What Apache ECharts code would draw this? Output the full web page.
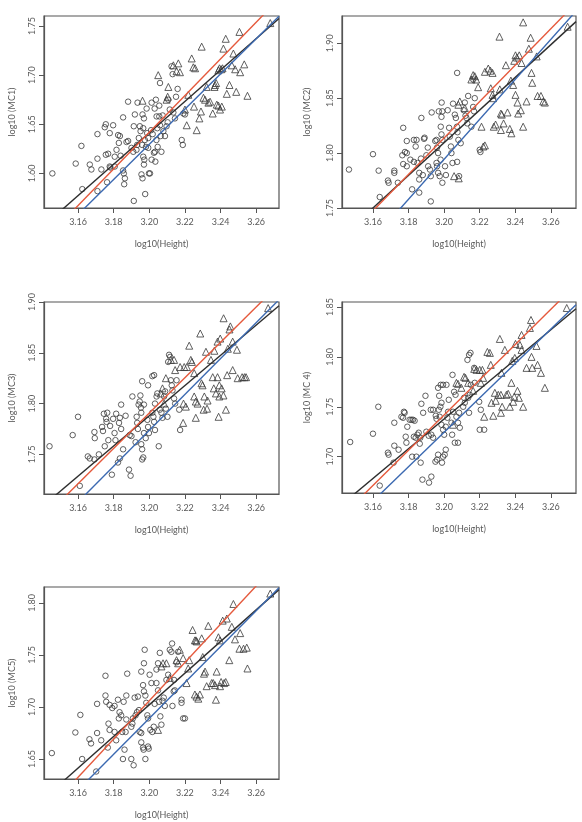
<!DOCTYPE html>
<html>
<head>
<meta charset="utf-8">
<script src="https://cdn.jsdelivr.net/npm/echarts@6/dist/echarts.min.js"></script>
<style>
  html, body { margin: 0; padding: 0; background: #fff; }
  #main { width: 582px; height: 822px; }
</style>
</head>
<body>
<div id="main"></div>
<script>
// x ticks shared by every panel
const xTicks = [3.16, 3.18, 3.20, 3.22, 3.24, 3.26];

// fitted lines: [black, red, blue]
const fitColors = ['#2e2e2e', '#e5593c', '#3b69b1'];

// ---- MC1 ----
const mc1YTicks = [1.60, 1.65, 1.70, 1.75];
const mc1Slopes = [1.598, 1.866, 1.789];
const mc1Intercepts = [-3.4723, -4.3293, -4.0952];
const mc1Circles = [
  [3.1456,1.600],[3.1587,1.610],[3.1619,1.628],[3.1624,1.584],[3.1666,1.609],[3.1675,1.604],
  [3.1709,1.640],[3.1709,1.615],[3.1709,1.582],[3.1731,1.604],[3.175,1.647],[3.1756,1.650],
  [3.1756,1.619],[3.1769,1.620],[3.1763,1.591],[3.1778,1.641],[3.1778,1.607],[3.1782,1.606],
  [3.1797,1.649],[3.1806,1.617],[3.1806,1.607],[3.1816,1.624],[3.1825,1.639],[3.1829,1.631],
  [3.1835,1.638],[3.1839,1.618],[3.1853,1.657],[3.1857,1.600],[3.1863,1.595],[3.1853,1.603],
  [3.1859,1.589],[3.1872,1.632],[3.1881,1.633],[3.1881,1.673],[3.19,1.626],[3.191,1.622],
  [3.1913,1.648],[3.1919,1.660],[3.1913,1.572],[3.1934,1.672],[3.1932,1.629],[3.1941,1.636],
  [3.1947,1.648],[3.1951,1.643],[3.1956,1.599],[3.1962,1.595],[3.1962,1.660],[3.197,1.656],
  [3.1966,1.646],[3.1966,1.617],[3.1972,1.614],[3.197,1.609],[3.1977,1.579],[3.1975,1.634],
  [3.1981,1.627],[3.1985,1.666],[3.1988,1.641],[3.1994,1.636],[3.1994,1.626],[3.1998,1.600],
  [3.2004,1.600],[3.2013,1.614],[3.2019,1.640],[3.2013,1.672],[3.2026,1.621],[3.2032,1.622],
  [3.2034,1.612],[3.2037,1.675],[3.2041,1.658],[3.2045,1.646],[3.2047,1.627],[3.2056,1.658],
  [3.206,1.649],[3.206,1.692],[3.2056,1.669],[3.2064,1.638],[3.2068,1.622],[3.2075,1.659],
  [3.2079,1.643],[3.2088,1.638],[3.2097,1.648],[3.2103,1.652],[3.2107,1.675],[3.2125,1.709],
  [3.2131,1.701],[3.2135,1.662],[3.2144,1.656],[3.215,1.678],[3.2159,1.686],[3.2182,1.634],
  [3.2188,1.629],[3.2191,1.661],[3.22,1.660],[3.1928,1.624],[3.1960,1.629],[3.2010,1.644],
  [3.2040,1.634],[3.2115,1.665],[3.2030,1.666]
];
const mc1Triangles = [
  [3.1962,1.674],[3.205,1.700],[3.2097,1.675],[3.2103,1.678],[3.2107,1.688],[3.2135,1.710],
  [3.2153,1.704],[3.2163,1.712],[3.2172,1.703],[3.22,1.665],[3.221,1.649],[3.2219,1.680],
  [3.2238,1.717],[3.2247,1.708],[3.2257,1.707],[3.2251,1.668],[3.2266,1.644],[3.2281,1.656],
  [3.229,1.663],[3.2294,1.729],[3.2304,1.677],[3.2313,1.675],[3.2322,1.688],[3.2332,1.672],
  [3.2341,1.673],[3.2356,1.661],[3.2366,1.688],[3.2369,1.690],[3.2375,1.692],[3.2388,1.705],
  [3.2379,1.670],[3.2388,1.669],[3.2394,1.707],[3.2403,1.706],[3.2411,1.707],[3.2397,1.665],
  [3.2407,1.668],[3.2416,1.727],[3.2429,1.737],[3.2435,1.681],[3.245,1.690],[3.2463,1.710],
  [3.2472,1.722],[3.2482,1.706],[3.2488,1.683],[3.2506,1.744],[3.251,1.703],[3.2533,1.711],
  [3.2551,1.679],[3.2679,1.753]
];

// ---- MC2 ----
const mc2YTicks = [1.75, 1.80, 1.85, 1.90];
const mc2Slopes = [1.487, 1.658, 1.82];
const mc2Intercepts = [-2.9489, -3.4918, -4.0296];
const mc2Circles = [
  [3.1465,1.785],[3.160,1.799],[3.1632,1.784],[3.1638,1.760],[3.1684,1.775],[3.1688,1.773],
  [3.172,1.784],[3.172,1.782],[3.174,1.773],[3.177,1.823],[3.1765,1.798],[3.177,1.790],
  [3.178,1.801],[3.179,1.800],[3.179,1.788],[3.179,1.811],[3.181,1.794],[3.182,1.767],
  [3.183,1.812],[3.184,1.806],[3.1845,1.812],[3.183,1.792],[3.185,1.791],[3.186,1.782],
  [3.186,1.776],[3.186,1.764],[3.1872,1.832],[3.1887,1.813],[3.189,1.814],[3.187,1.795],
  [3.188,1.780],[3.19,1.798],[3.1908,1.805],[3.191,1.788],[3.192,1.785],[3.1925,1.779],
  [3.1925,1.756],[3.193,1.837],[3.195,1.811],[3.1957,1.812],[3.196,1.805],[3.1966,1.800],
  [3.1957,1.791],[3.196,1.788],[3.1966,1.782],[3.1975,1.779],[3.197,1.838],[3.1985,1.833],
  [3.199,1.838],[3.1981,1.824],[3.1985,1.817],[3.199,1.812],[3.199,1.773],[3.198,1.794],
  [3.2005,1.788],[3.201,1.780],[3.1986,1.846],[3.202,1.839],[3.2028,1.823],[3.2032,1.815],
  [3.2038,1.806],[3.2041,1.800],[3.2047,1.791],[3.205,1.845],[3.206,1.835],[3.2066,1.832],
  [3.2072,1.824],[3.2075,1.819],[3.208,1.812],[3.2073,1.873],[3.2073,1.792],[3.2084,1.779],
  [3.2093,1.809],[3.211,1.839],[3.2116,1.846],[3.212,1.834],[3.2125,1.832],[3.213,1.827],
  [3.2135,1.852],[3.2163,1.867],[3.2163,1.842],[3.2172,1.850],[3.2168,1.838],[3.2153,1.824],
  [3.22,1.803],[3.2204,1.801]
];
const mc2Triangles = [
  [3.2056,1.779],[3.2082,1.777],[3.208,1.844],[3.2088,1.847],[3.2116,1.841],[3.2153,1.867],
  [3.2163,1.871],[3.2172,1.870],[3.218,1.867],[3.2191,1.860],[3.221,1.824],[3.222,1.806],
  [3.2229,1.807],[3.2229,1.874],[3.2248,1.877],[3.226,1.875],[3.2272,1.873],[3.2262,1.859],
  [3.2272,1.853],[3.2275,1.850],[3.2279,1.824],[3.2289,1.826],[3.2311,1.906],[3.2313,1.858],
  [3.2319,1.836],[3.2324,1.835],[3.2334,1.827],[3.2319,1.821],[3.2347,1.880],[3.2356,1.837],
  [3.2369,1.822],[3.2378,1.818],[3.2375,1.866],[3.2388,1.862],[3.2394,1.884],[3.2401,1.889],
  [3.2409,1.887],[3.2422,1.889],[3.2401,1.853],[3.2412,1.846],[3.2416,1.836],[3.2431,1.839],
  [3.2444,1.824],[3.2444,1.919],[3.2435,1.882],[3.2463,1.847],[3.2476,1.895],[3.2486,1.905],
  [3.2491,1.873],[3.2495,1.864],[3.252,1.888],[3.2525,1.852],[3.2544,1.852],[3.2557,1.847],
  [3.2566,1.846],[3.2694,1.915]
];

// ---- MC3 ----
const mc3YTicks = [1.75, 1.80, 1.85, 1.90];
const mc3Slopes = [1.487, 1.74, 1.766];
const mc3Intercepts = [-2.9704, -3.7773, -3.8775];
const mc3Circles = [
  [3.144,1.758],[3.157,1.769],[3.160,1.787],[3.161,1.719],[3.1655,1.748],[3.1666,1.746],
  [3.1692,1.772],[3.1694,1.766],[3.1692,1.745],[3.1717,1.750],[3.1735,1.777],[3.174,1.773],
  [3.1745,1.790],[3.175,1.758],[3.1758,1.785],[3.176,1.782],[3.1764,1.791],[3.177,1.764],
  [3.178,1.778],[3.179,1.730],[3.1797,1.785],[3.1805,1.771],[3.181,1.764],[3.1814,1.790],
  [3.1824,1.742],[3.1835,1.746],[3.183,1.781],[3.1835,1.786],[3.1842,1.799],[3.1842,1.775],
  [3.1853,1.755],[3.1867,1.788],[3.1886,1.735],[3.1895,1.729],[3.189,1.769],[3.19,1.768],
  [3.1905,1.807],[3.1923,1.762],[3.1929,1.787],[3.1932,1.781],[3.1936,1.775],[3.194,1.799],
  [3.1946,1.802],[3.195,1.808],[3.1953,1.796],[3.1955,1.791],[3.1955,1.760],[3.196,1.755],
  [3.196,1.745],[3.1966,1.747],[3.196,1.822],[3.197,1.799],[3.197,1.771],[3.198,1.766],
  [3.1989,1.784],[3.1993,1.777],[3.1998,1.771],[3.1993,1.818],[3.2017,1.827],[3.2027,1.828],
  [3.2017,1.791],[3.2023,1.787],[3.2027,1.782],[3.2032,1.774],[3.2032,1.800],[3.2041,1.807],
  [3.2045,1.810],[3.2053,1.758],[3.2059,1.794],[3.2068,1.791],[3.2074,1.786],[3.2083,1.807],
  [3.2089,1.812],[3.2093,1.795],[3.2102,1.787],[3.2111,1.848],[3.2117,1.846],[3.2106,1.841],
  [3.2121,1.823],[3.2126,1.818],[3.213,1.813],[3.2139,1.805],[3.2145,1.800],[3.2153,1.823],
  [3.2173,1.774],[3.2168,1.794]
];
const mc3Triangles = [
  [3.2064,1.810],[3.2074,1.815],[3.2093,1.825],[3.2083,1.800],[3.2121,1.843],[3.2139,1.843],
  [3.2145,1.833],[3.2173,1.836],[3.2196,1.836],[3.2211,1.836],[3.2205,1.797],[3.2192,1.800],
  [3.219,1.781],[3.2224,1.857],[3.2233,1.843],[3.2239,1.841],[3.2252,1.830],[3.2252,1.807],
  [3.2261,1.802],[3.2271,1.800],[3.2261,1.786],[3.2286,1.869],[3.2293,1.820],[3.2299,1.818],
  [3.2305,1.794],[3.2309,1.807],[3.2318,1.851],[3.2324,1.795],[3.2327,1.803],[3.2346,1.843],
  [3.2356,1.826],[3.2362,1.815],[3.2365,1.852],[3.2374,1.810],[3.2383,1.826],[3.2383,1.861],
  [3.2389,1.787],[3.2393,1.807],[3.2393,1.818],[3.2398,1.864],[3.2406,1.815],[3.2416,1.808],
  [3.2417,1.884],[3.243,1.794],[3.245,1.873],[3.2455,1.876],[3.2468,1.861],[3.2468,1.833],
  [3.2437,1.828],[3.2441,1.854],[3.2492,1.853],[3.2496,1.825],[3.2521,1.826],[3.2534,1.826],
  [3.2543,1.826],[3.2667,1.894]
];

// ---- MC 4 ----
const mc4YTicks = [1.70, 1.75, 1.80, 1.85];
const mc4Slopes = [1.491, 1.766, 1.725];
const mc4Intercepts = [-3.0334, -3.9094, -3.7955];
const mc4Circles = [
  [3.1472,1.7147],[3.160,1.723],[3.163,1.750],[3.1638,1.671],[3.1684,1.704],[3.1688,1.702],
  [3.172,1.734],[3.172,1.711],[3.1716,1.694],[3.1744,1.707],[3.176,1.740],[3.1769,1.739],
  [3.1774,1.745],[3.1778,1.744],[3.1784,1.720],[3.1788,1.714],[3.1793,1.730],[3.1806,1.737],
  [3.1816,1.737],[3.1825,1.737],[3.1834,1.736],[3.182,1.700],[3.1844,1.700],[3.183,1.720],
  [3.184,1.719],[3.185,1.722],[3.1857,1.724],[3.1863,1.713],[3.1866,1.719],[3.1868,1.694],
  [3.1878,1.677],[3.1872,1.753],[3.1882,1.744],[3.1895,1.761],[3.19,1.725],[3.1913,1.721],
  [3.1915,1.674],[3.1928,1.680],[3.1925,1.747],[3.1938,1.747],[3.1928,1.722],[3.1938,1.719],
  [3.1953,1.741],[3.1957,1.738],[3.1951,1.695],[3.196,1.697],[3.1966,1.702],[3.1966,1.769],
  [3.1972,1.761],[3.1981,1.772],[3.197,1.747],[3.1979,1.750],[3.1985,1.754],[3.1975,1.740],
  [3.1985,1.732],[3.1994,1.727],[3.2,1.722],[3.1988,1.694],[3.1994,1.700],[3.2003,1.702],
  [3.2009,1.707],[3.1994,1.772],[3.2009,1.730],[3.2018,1.739],[3.2022,1.745],[3.2026,1.757],
  [3.2013,1.772],[3.2041,1.734],[3.2045,1.722],[3.205,1.745],[3.2047,1.782],[3.2056,1.765],
  [3.2064,1.762],[3.206,1.714],[3.2078,1.714],[3.2069,1.740],[3.2078,1.734],[3.2084,1.744],
  [3.2088,1.729],[3.2107,1.750],[3.2116,1.754],[3.2112,1.759],[3.2131,1.797],[3.214,1.802],
  [3.2148,1.804],[3.2135,1.759],[3.2144,1.762],[3.215,1.772],[3.214,1.744],[3.2172,1.774],
  [3.2169,1.789],[3.2197,1.755],[3.2206,1.747],[3.22,1.727],[3.2225,1.727]
];
const mc4Triangles = [
  [3.205,1.732],[3.2069,1.774],[3.2078,1.773],[3.2097,1.769],[3.2112,1.780],[3.212,1.779],
  [3.2135,1.774],[3.2163,1.766],[3.2169,1.788],[3.2182,1.787],[3.22,1.787],[3.2215,1.787],
  [3.2206,1.774],[3.2219,1.779],[3.2225,1.740],[3.2243,1.805],[3.2257,1.804],[3.2262,1.792],
  [3.2266,1.754],[3.2276,1.741],[3.2285,1.764],[3.229,1.756],[3.2304,1.762],[3.2319,1.762],
  [3.2313,1.818],[3.2322,1.784],[3.2326,1.750],[3.2319,1.744],[3.2341,1.807],[3.235,1.762],
  [3.236,1.763],[3.2369,1.750],[3.2378,1.774],[3.2383,1.796],[3.2388,1.755],[3.2394,1.760],
  [3.2397,1.799],[3.2401,1.813],[3.2412,1.766],[3.242,1.759],[3.2426,1.812],[3.2435,1.822],
  [3.2444,1.750],[3.2435,1.807],[3.2463,1.789],[3.2482,1.829],[3.2488,1.837],[3.2491,1.800],
  [3.2495,1.789],[3.2519,1.811],[3.2525,1.792],[3.2544,1.784],[3.2566,1.769],[3.2689,1.849]
];

// ---- MC5 ----
const mc5YTicks = [1.65, 1.70, 1.75, 1.80];
const mc5Slopes = [1.52, 1.839, 1.725];
const mc5Intercepts = [-3.1619, -4.1788, -3.8309];
const mc5Circles = [
  [3.1453,1.6557],[3.1585,1.6755],[3.1613,1.6924],[3.1623,1.650],[3.1664,1.669],[3.1673,1.665],
  [3.1707,1.703],[3.1707,1.675],[3.173,1.668],[3.1702,1.638],[3.1754,1.730],[3.1754,1.711],
  [3.1758,1.705],[3.1767,1.661],[3.1771,1.684],[3.1777,1.678],[3.1777,1.702],[3.1792,1.699],
  [3.1805,1.701],[3.1805,1.676],[3.1814,1.668],[3.1824,1.707],[3.1829,1.689],[3.1833,1.695],
  [3.1842,1.692],[3.1848,1.676],[3.1856,1.705],[3.1867,1.676],[3.1871,1.688],[3.1861,1.659],
  [3.1852,1.650],[3.1876,1.732],[3.1871,1.711],[3.1899,1.681],[3.1905,1.684],[3.1908,1.689],
  [3.1899,1.650],[3.1912,1.644],[3.1918,1.709],[3.1936,1.710],[3.1923,1.692],[3.1931,1.695],
  [3.1942,1.697],[3.1946,1.676],[3.1955,1.675],[3.1955,1.666],[3.1965,1.661],[3.1968,1.659],
  [3.1978,1.650],[3.1955,1.734],[3.1965,1.721],[3.197,1.715],[3.1978,1.711],[3.1974,1.755],
  [3.197,1.742],[3.1983,1.704],[3.1989,1.692],[3.1993,1.689],[3.1993,1.662],[3.1997,1.660],
  [3.2002,1.731],[3.2012,1.723],[3.2006,1.678],[3.2017,1.676],[3.2025,1.681],[3.203,1.703],
  [3.204,1.736],[3.2049,1.742],[3.204,1.723],[3.2049,1.716],[3.2055,1.705],[3.2059,1.752],
  [3.2062,1.691],[3.2068,1.683],[3.2074,1.706],[3.2081,1.709],[3.2087,1.701],[3.2096,1.726],
  [3.2106,1.731],[3.2115,1.755],[3.2124,1.753],[3.2128,1.761],[3.213,1.701],[3.2137,1.715],
  [3.2143,1.716],[3.2153,1.743],[3.2162,1.753],[3.2139,1.726],[3.2181,1.707],[3.2181,1.704],
  [3.219,1.689],[3.22,1.689]
];
const mc5Triangles = [
  [3.2049,1.678],[3.2068,1.739],[3.2077,1.742],[3.2096,1.742],[3.2115,1.728],[3.2153,1.745],
  [3.2162,1.742],[3.2171,1.755],[3.219,1.747],[3.2209,1.723],[3.2218,1.737],[3.2224,1.745],
  [3.2243,1.774],[3.2256,1.764],[3.2262,1.764],[3.2266,1.763],[3.2256,1.712],[3.2265,1.710],
  [3.2275,1.708],[3.2284,1.712],[3.2294,1.766],[3.23,1.748],[3.2307,1.732],[3.2313,1.734],
  [3.2322,1.720],[3.2331,1.778],[3.235,1.723],[3.2359,1.723],[3.2369,1.721],[3.2374,1.707],
  [3.2378,1.734],[3.2388,1.767],[3.2397,1.764],[3.2397,1.720],[3.2403,1.724],[3.2412,1.783],
  [3.242,1.723],[3.2429,1.724],[3.2435,1.785],[3.2449,1.745],[3.2463,1.777],[3.2472,1.799],
  [3.2481,1.765],[3.251,1.771],[3.2506,1.756],[3.2529,1.756],[3.2547,1.757],[3.2551,1.737],
  [3.2679,1.809]
];

const FONT = 'Lato, "Open Sans", sans-serif';
const TEXT = '#5a5a5a';
const FRAME = '#555';

// panel layout (pixel boxes + axis extents)
const panels = [
  { yName: 'log10 (MC1)', circles: mc1Circles, triangles: mc1Triangles, slopes: mc1Slopes, intercepts: mc1Intercepts,
    yTicks: mc1YTicks, x: [3.1409, 3.2728], y: [1.5648, 1.7602], box: { left: 44, top: 16, width: 235, height: 192 }, yGap: 27 },
  { yName: 'log10 (MC2)', circles: mc2Circles, triangles: mc2Triangles, slopes: mc2Slopes, intercepts: mc2Intercepts,
    yTicks: mc2YTicks, x: [3.1426, 3.2741], y: [1.75, 1.9248], box: { left: 342, top: 16, width: 234, height: 192 }, yGap: 30 },
  { yName: 'log10 (MC3)', circles: mc3Circles, triangles: mc3Triangles, slopes: mc3Slopes, intercepts: mc3Intercepts,
    yTicks: mc3YTicks, x: [3.1409, 3.2728], y: [1.711, 1.90], box: { left: 44, top: 302, width: 235, height: 192 }, yGap: 27 },
  { yName: 'log10 (MC 4)', circles: mc4Circles, triangles: mc4Triangles, slopes: mc4Slopes, intercepts: mc4Intercepts,
    yTicks: mc4YTicks, x: [3.1426, 3.2741], y: [1.6636, 1.855], box: { left: 342, top: 302, width: 234, height: 191 }, yGap: 30 },
  { yName: 'log10 (MC5)', circles: mc5Circles, triangles: mc5Triangles, slopes: mc5Slopes, intercepts: mc5Intercepts,
    yTicks: mc5YTicks, x: [3.1409, 3.2728], y: [1.6308, 1.8153], box: { left: 44, top: 587, width: 235, height: 192 }, yGap: 27 }
];

const grid = [];
const xAxis = [];
const yAxis = [];
const series = [];

const labelStyle = { color: TEXT, fontSize: 9, fontFamily: FONT };

panels.forEach((p, i) => {
  grid.push({ ...p.box, show: true, borderColor: FRAME, borderWidth: 1.2, containLabel: false });

  xAxis.push({
    gridIndex: i, type: 'value', min: p.x[0], max: p.x[1],
    axisLine: { show: true, onZero: false, lineStyle: { color: FRAME, width: 1.2 } },
    axisTick: { show: true, length: 5, customValues: xTicks, lineStyle: { color: FRAME } },
    axisLabel: { ...labelStyle, customValues: xTicks, margin: 10, formatter: (v) => v.toFixed(2) },
    splitLine: { show: false },
    name: 'log10(Height)', nameLocation: 'middle', nameGap: 32,
    nameTextStyle: { ...labelStyle }
  });

  yAxis.push({
    gridIndex: i, type: 'value', min: p.y[0], max: p.y[1],
    axisLine: { show: true, onZero: false, lineStyle: { color: FRAME, width: 1.2 } },
    axisTick: { show: true, length: 5, customValues: p.yTicks, lineStyle: { color: FRAME } },
    axisLabel: { ...labelStyle, customValues: p.yTicks, rotate: 90, margin: 7, formatter: (v) => v.toFixed(2) },
    splitLine: { show: false },
    name: p.yName, nameLocation: 'middle', nameGap: p.yGap,
    nameTextStyle: { ...labelStyle }
  });

  series.push({
    type: 'scatter', xAxisIndex: i, yAxisIndex: i, data: p.circles,
    symbol: 'circle', symbolSize: 5.5,
    itemStyle: { color: 'rgba(0,0,0,0)', borderColor: '#3a3a3a', borderWidth: 1 },
    z: 2
  });
  series.push({
    type: 'scatter', xAxisIndex: i, yAxisIndex: i, data: p.triangles,
    symbol: 'triangle', symbolSize: 7,
    itemStyle: { color: 'rgba(0,0,0,0)', borderColor: '#3a3a3a', borderWidth: 1 },
    z: 2
  });

  // fitted lines drawn across the whole x range, clipped by the grid
  p.slopes.forEach((s, k) => {
    const b = p.intercepts[k];
    series.push({
      type: 'line', xAxisIndex: i, yAxisIndex: i,
      data: [[p.x[0], b + s * p.x[0]], [p.x[1], b + s * p.x[1]]],
      showSymbol: false, clip: true, silent: true,
      lineStyle: { color: fitColors[k], width: 1.4 },
      z: 3 + k
    });
  });
});

const chart = echarts.init(document.getElementById('main'), null, { renderer: 'canvas' });
chart.setOption({
  animation: false,
  backgroundColor: '#fff',
  grid, xAxis, yAxis, series
});
</script>
</body>
</html>
